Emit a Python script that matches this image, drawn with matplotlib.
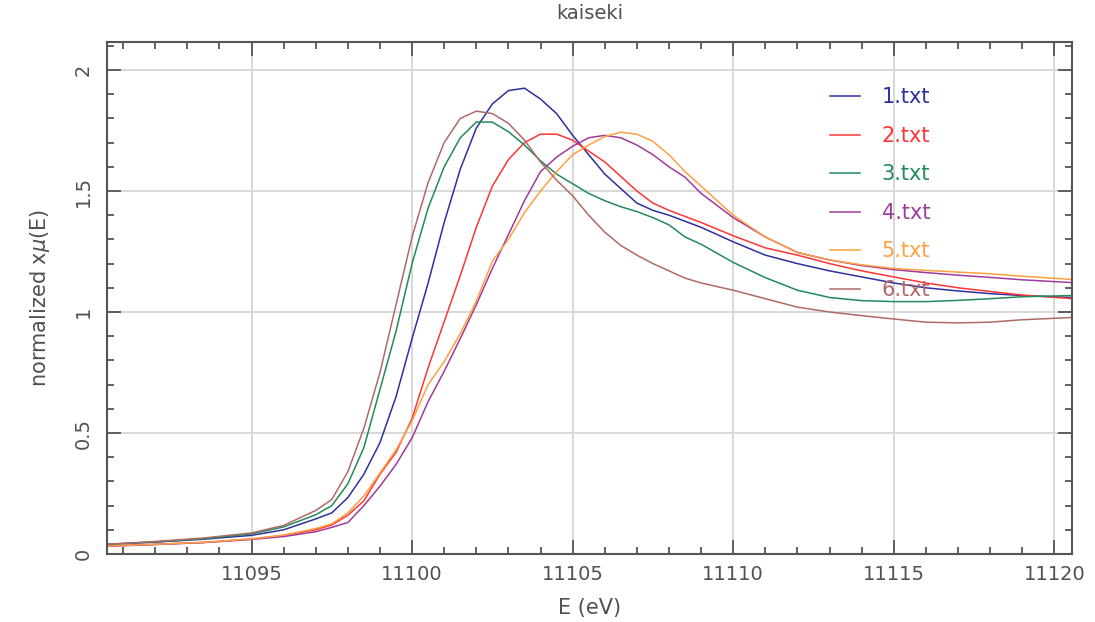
import matplotlib
matplotlib.use("Agg")
import matplotlib.pyplot as plt
import matplotlib.ticker as ticker

# energia (eV)
energy = [11090.5, 11092, 11093.5, 11095, 11096, 11097, 11097.5, 11098, 11098.5, 11099,
          11099.5, 11100, 11100.5, 11101, 11101.5, 11102, 11102.5, 11103, 11103.5, 11104,
          11104.5, 11105, 11105.5, 11106, 11106.5, 11107, 11107.5, 11108, 11108.5, 11109,
          11110, 11111, 11112, 11113, 11114, 11115, 11116, 11117, 11118, 11119, 11120.5]

mu_1 = [0.040, 0.049, 0.061, 0.077, 0.100, 0.145, 0.170, 0.233, 0.330, 0.460,
        0.650, 0.890, 1.120, 1.370, 1.590, 1.760, 1.860, 1.915, 1.925, 1.880,
        1.820, 1.730, 1.650, 1.570, 1.510, 1.450, 1.420, 1.400, 1.375, 1.350,
        1.290, 1.235, 1.200, 1.170, 1.145, 1.120, 1.100, 1.087, 1.076, 1.068, 1.060]

mu_2 = [0.033, 0.040, 0.048, 0.062, 0.077, 0.100, 0.120, 0.160, 0.220, 0.330,
        0.420, 0.560, 0.770, 0.960, 1.150, 1.350, 1.520, 1.630, 1.700, 1.735,
        1.735, 1.710, 1.665, 1.620, 1.560, 1.500, 1.450, 1.420, 1.395, 1.370,
        1.315, 1.265, 1.235, 1.200, 1.170, 1.145, 1.120, 1.100, 1.085, 1.070, 1.056]

mu_3 = [0.040, 0.050, 0.063, 0.083, 0.112, 0.162, 0.200, 0.290, 0.440, 0.680,
        0.920, 1.200, 1.430, 1.600, 1.720, 1.785, 1.785, 1.745, 1.690, 1.625,
        1.570, 1.530, 1.490, 1.460, 1.435, 1.415, 1.390, 1.360, 1.310, 1.280,
        1.205, 1.142, 1.090, 1.060, 1.047, 1.043, 1.043, 1.048, 1.055, 1.063, 1.068]

mu_4 = [0.032, 0.039, 0.047, 0.060, 0.072, 0.092, 0.110, 0.130, 0.200, 0.280,
        0.370, 0.480, 0.630, 0.755, 0.890, 1.030, 1.180, 1.320, 1.460, 1.580,
        1.640, 1.685, 1.720, 1.730, 1.720, 1.690, 1.650, 1.600, 1.557, 1.490,
        1.390, 1.310, 1.246, 1.215, 1.192, 1.175, 1.163, 1.152, 1.143, 1.133, 1.122]

mu_5 = [0.033, 0.040, 0.048, 0.062, 0.078, 0.105, 0.125, 0.170, 0.240, 0.335,
        0.430, 0.550, 0.700, 0.795, 0.910, 1.045, 1.210, 1.300, 1.410, 1.500,
        1.580, 1.650, 1.690, 1.725, 1.743, 1.735, 1.705, 1.650, 1.580, 1.520,
        1.400, 1.310, 1.246, 1.215, 1.195, 1.180, 1.172, 1.165, 1.158, 1.148, 1.135]

mu_6 = [0.040, 0.052, 0.066, 0.087, 0.118, 0.180, 0.225, 0.340, 0.520, 0.750,
        1.030, 1.310, 1.535, 1.700, 1.800, 1.830, 1.820, 1.780, 1.710, 1.620,
        1.545, 1.480, 1.400, 1.330, 1.275, 1.235, 1.200, 1.170, 1.140, 1.120,
        1.090, 1.055, 1.020, 1.000, 0.985, 0.971, 0.958, 0.955, 0.958, 0.968, 0.977]

labels = ["1.txt", "2.txt", "3.txt", "4.txt", "5.txt", "6.txt"]
series = [mu_1, mu_2, mu_3, mu_4, mu_5, mu_6]
colors = ["#2f2fa0", "#ff3535", "#218a5c", "#a03a9c", "#ffa040", "#b06a66"]

text_col = "#505050"
plt.rcParams["font.family"] = ["DejaVu Sans"]

fig = plt.figure(figsize=(10.95, 6.22), dpi=100)
ax = fig.add_axes([107 / 1095, 1 - 554 / 622, (1072 - 107) / 1095, (554 - 41.7) / 622])

for mu, lab, c in zip(series, labels, colors):
    ax.plot(energy, mu, color=c, lw=1.1, label=lab)

ax.set_xlim(11090.5, 11120.55)
ax.set_ylim(0, 2.117)

ax.xaxis.set_major_locator(ticker.MultipleLocator(5))
ax.xaxis.set_minor_locator(ticker.MultipleLocator(1))
ax.yaxis.set_major_locator(ticker.MultipleLocator(0.5))
ax.yaxis.set_minor_locator(ticker.MultipleLocator(0.1))
ax.yaxis.set_major_formatter(ticker.FuncFormatter(lambda v, p: f"{v:g}"))

ax.tick_params(which="both", direction="in", top=True, right=True, colors="#555555",
               labelcolor=text_col, labelsize=14, width=1.3)
ax.tick_params(which="major", length=10, pad=8)
ax.tick_params(axis="y", which="major", pad=10)
ax.tick_params(which="minor", length=5)
for lab in ax.get_yticklabels():
    lab.set_rotation(90)
    lab.set_va("center")

for s in ax.spines.values():
    s.set_color("#555555")
    s.set_linewidth(1.5)

ax.grid(True, which="major", color="#d8d8d8", lw=1.4)
ax.set_axisbelow(True)

ax.set_title("kaiseki", fontsize=14, color=text_col, pad=16)
ax.set_xlabel("E (eV)", fontsize=15, color=text_col, labelpad=10)
ax.set_ylabel(r"normalized x$\mu$(E)", fontsize=15, color=text_col, labelpad=16)

ax.legend(loc="upper left", bbox_to_anchor=(0.749, 0.911), frameon=False,
          borderpad=0, borderaxespad=0,
          labelcolor="linecolor", fontsize=15, handlelength=1.45, handletextpad=1.05,
          labelspacing=0.89)

fig.savefig("out.png", dpi=100)
